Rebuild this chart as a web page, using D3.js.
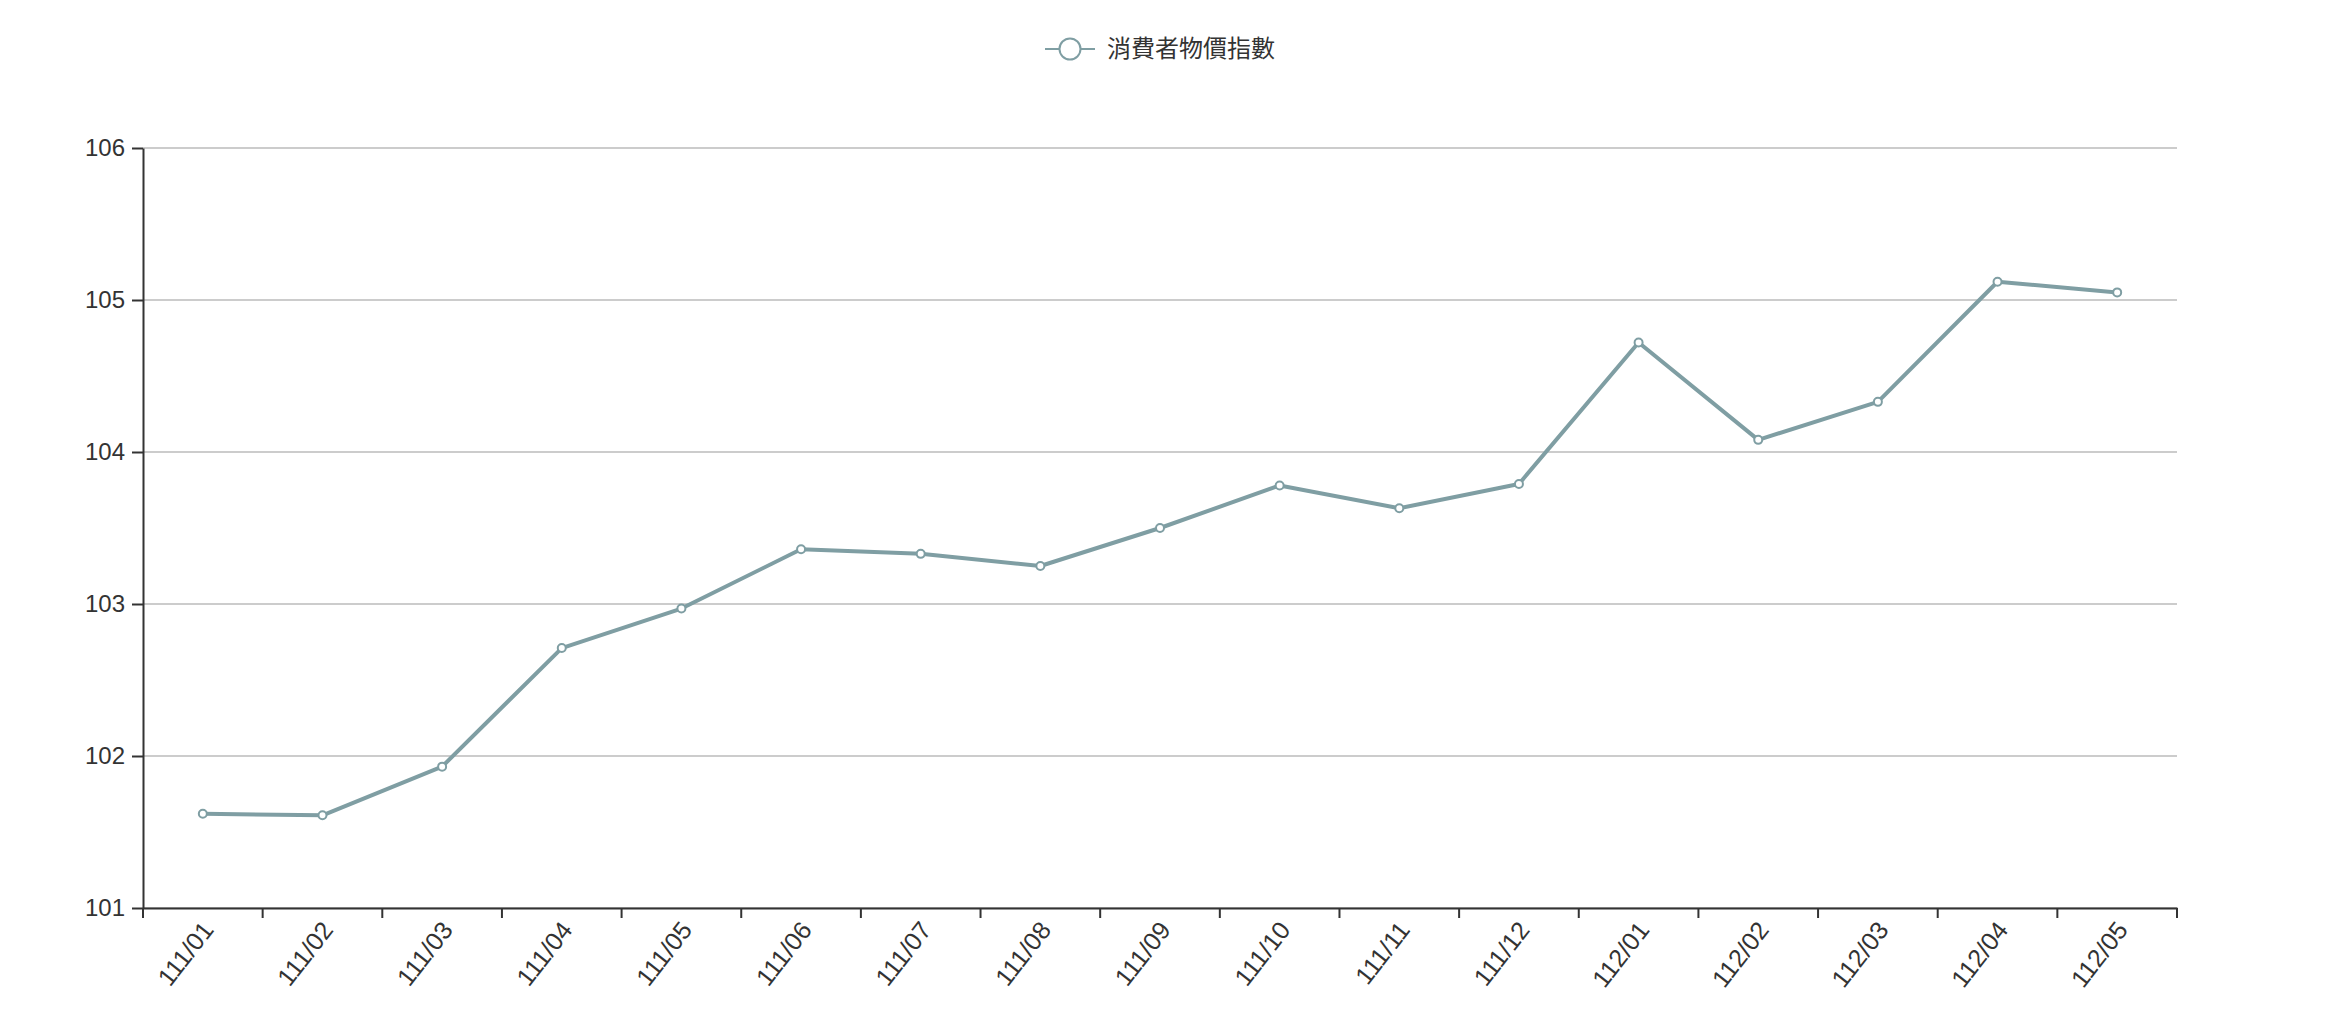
<!DOCTYPE html>
<html>
<head>
<meta charset="utf-8">
<script src="https://cdn.jsdelivr.net/npm/d3@7/dist/d3.min.js"></script>
<style>
  body { margin: 0; background: #fff; }
  svg text { font-family: "Helvetica Neue", Helvetica, Arial, "Liberation Sans", "Noto Sans CJK TC", sans-serif; }
</style>
</head>
<body>
<div id="chart"></div>
<script>
// Data
var seriesName = "消費者物價指數";
var months = ["111/01", "111/02", "111/03", "111/04", "111/05", "111/06", "111/07", "111/08", "111/09",
              "111/10", "111/11", "111/12", "112/01", "112/02", "112/03", "112/04", "112/05"];
var cpi = [101.62, 101.61, 101.93, 102.71, 102.97, 103.36, 103.33, 103.25, 103.50,
           103.78, 103.63, 103.79, 104.72, 104.08, 104.33, 105.12, 105.05];
var yTicks = [101, 102, 103, 104, 105, 106];

var config = {
    width: 2326,
    height: 1024,
    margin: {top: 148, right: 149, bottom: 116, left: 143},
    lineColor: "#7f9ea3",
    axisColor: "#333",
    gridColor: "#ccc"
};

var plotW = config.width - config.margin.left - config.margin.right;
var plotH = config.height - config.margin.top - config.margin.bottom;

var svg = d3.select("#chart").append("svg")
    .attr("width", config.width)
    .attr("height", config.height);

var g = svg.append("g")
    .attr("transform", "translate(" + config.margin.left + "," + config.margin.top + ")");

var x = d3.scaleBand().domain(months).range([0, plotW]);
var y = d3.scaleLinear().domain([101, 106]).range([plotH, 0]);

// Grid lines
g.append("g")
    .selectAll("line")
    .data(yTicks)
    .enter().append("line")
    .attr("x1", 0)
    .attr("x2", plotW)
    .attr("y1", function(d) { return y(d); })
    .attr("y2", function(d) { return y(d); })
    .style("stroke", config.gridColor)
    .style("stroke-width", 2);

// Y axis
var yAxis = g.append("g")
    .call(d3.axisLeft(y).tickValues(yTicks).tickFormat(d3.format("d"))
          .tickSize(11).tickPadding(7).tickSizeOuter(0));
yAxis.select(".domain").style("stroke", config.axisColor).style("stroke-width", 2);
yAxis.selectAll(".tick line").style("stroke", config.axisColor).style("stroke-width", 2);
yAxis.selectAll(".tick text")
    .style("font-size", "24px")
    .style("fill", "#333");

// X axis: ticks sit on band boundaries, labels at band centres
var xAxis = g.append("g")
    .attr("transform", "translate(0," + plotH + ")")
    .call(d3.axisBottom(x).tickSize(10).tickSizeOuter(0));
xAxis.select(".domain").style("stroke", config.axisColor).style("stroke-width", 2);
xAxis.selectAll(".tick")
    .attr("transform", function(d) { return "translate(" + x(d) + ",0)"; });
xAxis.selectAll(".tick line").style("stroke", config.axisColor).style("stroke-width", 2);
xAxis.selectAll(".tick text")
    .attr("y", 0)
    .attr("dy", "0.35em")
    .attr("transform", "translate(" + (x.bandwidth() / 2 + 5) + ",17) rotate(-52)")
    .style("text-anchor", "end")
    .style("font-size", "25px")
    .style("fill", "#333");
xAxis.append("line")
    .attr("x1", plotW).attr("x2", plotW)
    .attr("y1", 0).attr("y2", 10)
    .style("stroke", config.axisColor)
    .style("stroke-width", 2);

// Line
var line = d3.line()
    .x(function(d, i) { return x(months[i]) + x.bandwidth() / 2; })
    .y(function(d) { return y(d); });

g.append("path")
    .datum(cpi)
    .attr("d", line)
    .style("fill", "none")
    .style("stroke", config.lineColor)
    .style("stroke-width", 4)
    .style("stroke-linejoin", "round");

g.selectAll(".dot")
    .data(cpi)
    .enter().append("circle")
    .attr("class", "dot")
    .attr("cx", function(d, i) { return x(months[i]) + x.bandwidth() / 2; })
    .attr("cy", function(d) { return y(d); })
    .attr("r", 4)
    .style("fill", "#fff")
    .style("stroke", config.lineColor)
    .style("stroke-width", 2);

// Legend
var legend = svg.append("g").attr("transform", "translate(1045,49)");
legend.append("line")
    .attr("x1", 0).attr("x2", 50)
    .style("stroke", config.lineColor)
    .style("stroke-width", 2);
legend.append("circle")
    .attr("cx", 25)
    .attr("r", 10.5)
    .style("fill", "#fff")
    .style("stroke", config.lineColor)
    .style("stroke-width", 2);
legend.append("text")
    .attr("x", 62)
    .attr("dy", "0.35em")
    .style("font-size", "24px")
    .style("fill", "#333")
    .text(seriesName);
</script>
</body>
</html>
